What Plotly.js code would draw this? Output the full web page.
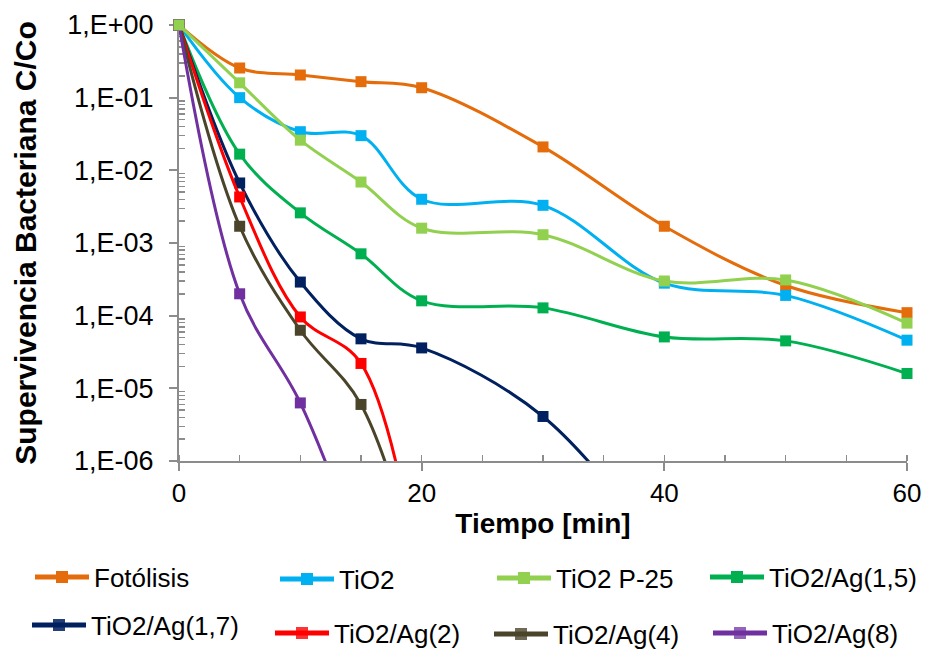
<!DOCTYPE html>
<html>
<head>
<meta charset="utf-8">
<script src="https://cdn.plot.ly/plotly-3.0.1.min.js"></script>
<style>html,body{margin:0;padding:0;background:#fff;}#chart{width:942px;height:651px;}</style>
</head>
<body>
<div id="chart"></div>
<script>
// ---- data ----
const tiempo = [0, 5, 10, 15, 20, 30, 40, 50, 60];

const seriesNames = ["Fotólisis", "TiO2", "TiO2 P-25", "TiO2/Ag(1,5)",
                     "TiO2/Ag(1,7)", "TiO2/Ag(2)", "TiO2/Ag(4)", "TiO2/Ag(8)"];

const fotolisis = [1, 0.256, 0.205, 0.166, 0.137, 0.021, 0.0017, 2.6e-4, 1.1e-4];
const tio2      = [1, 0.100, 0.034, 0.030, 0.0040, 0.0033, 2.8e-4, 1.9e-4, 4.6e-5];
const tio2P25   = [1, 0.160, 0.026, 0.0069, 0.0016, 0.0013, 3.0e-4, 3.1e-4, 7.9e-5];
const ag15      = [1, 0.0167, 0.0026, 7.1e-4, 1.6e-4, 1.28e-4, 5.1e-5, 4.5e-5, 1.6e-5];
const ag17      = [1, 0.0067, 2.9e-4, 4.8e-5, 3.6e-5, 4.1e-6, 5e-8];
const ag2       = [1, 0.0043, 9.6e-5, 2.2e-5, 1.5e-8];
const ag4       = [1, 0.0017, 6.3e-5, 6.0e-6, 2e-8];
const ag8       = [1, 2.0e-4, 6.3e-6, 5e-8];

const yTickVals = [1e-6, 1e-5, 1e-4, 1e-3, 1e-2, 1e-1, 1];
const yTickText = ["1,E-06", "1,E-05", "1,E-04", "1,E-03", "1,E-02", "1,E-01", "1,E+00"];
const xTickVals = [0, 20, 40, 60];
const xTickText = ["0", "20", "40", "60"];

// ---- styling ----
const colors = ["#E46C0A", "#00B0F0", "#92D050", "#00B050",
                "#002060", "#FF0000", "#4A452A", "#7030A0"];
const values = [fotolisis, tio2, tio2P25, ag15, ag17, ag2, ag4, ag8];
// legend placement (pixel positions in the 942x651 picture)
const legPx = [[30, 577], [275, 579], [492, 578], [705, 577],
               [27, 625], [270, 633], [489, 634], [708, 633]];

const W = 942, H = 651;
const plotL = 179, plotT = 25, plotW = 728, plotH = 436;
const yMin = 1e-6;

// draw order: P-25 last so its markers sit on top (like the reference)
const drawOrder = [0, 1, 3, 4, 5, 6, 7, 2];

const traces = drawOrder.map(i => {
  const ys = values[i];
  return {
    type: "scatter",
    mode: "lines+markers",
    name: seriesNames[i],
    x: tiempo.slice(0, ys.length),
    y: ys,
    line: {color: colors[i], width: 3, shape: "spline", smoothing: 1},
    marker: {symbol: "square", size: 11, color: colors[i],
             opacity: ys.map(v => v >= yMin ? 1 : 0)},
    cliponaxis: false,
    legend: i === 0 ? "legend" : "legend" + (i + 1),
    showlegend: true
  };
});

// minor ticks on the log axis (2..9 in every decade)
const yMinor = [];
for (let e = -6; e < 0; e++) for (let m = 2; m <= 9; m++) yMinor.push(m * Math.pow(10, e));

const layout = {
  width: W, height: H,
  paper_bgcolor: "#ffffff", plot_bgcolor: "#ffffff",
  margin: {l: plotL, r: W - plotL - plotW, t: plotT, b: H - plotT - plotH, pad: 0, autoexpand: false},
  font: {family: "Liberation Sans, Arial, sans-serif", color: "#000000"},
  xaxis: {
    range: [0, 60], showgrid: false, zeroline: false,
    showline: true, linecolor: "#8c8c8c", linewidth: 2,
    tickmode: "array", tickvals: xTickVals, ticktext: xTickText,
    ticks: "outside", ticklen: 8, tickwidth: 2, tickcolor: "#8c8c8c",
    tickfont: {size: 26, color: "#000"},
    minor: {tickmode: "linear", tick0: 0, dtick: 5, ticks: "inside", ticklen: 6,
            tickwidth: 1.5, tickcolor: "#8c8c8c", showgrid: false},
    title: {text: "<b>Tiempo [min]</b>", font: {size: 28, color: "#000"}, standoff: 6},
    layer: "below traces", automargin: false
  },
  yaxis: {
    type: "log", range: [-6, 0], showgrid: false, zeroline: false,
    showline: true, linecolor: "#8c8c8c", linewidth: 2,
    tickmode: "array", tickvals: yTickVals, ticktext: yTickText,
    ticks: "outside", ticklen: 8, tickwidth: 2, tickcolor: "#8c8c8c",
    tickfont: {size: 27, color: "#000"}, ticklabelstandoff: 10,
    minor: {tickmode: "array", tickvals: yMinor, ticks: "inside", ticklen: 6,
            tickwidth: 1.5, tickcolor: "#8c8c8c", showgrid: false},
    title: {text: "<b>Supervivencia Bacteriana C/Co</b>", font: {size: 30, color: "#000"}, standoff: 22},
    layer: "below traces", automargin: false
  },
  showlegend: true
};

legPx.forEach((p, i) => {
  const key = i === 0 ? "legend" : "legend" + (i + 1);
  layout[key] = {
    xref: "container", yref: "container",
    x: p[0] / W, y: 1 - p[1] / H,
    xanchor: "left", yanchor: "middle",
    orientation: "h", bgcolor: "rgba(0,0,0,0)", borderwidth: 0,
    font: {size: 26, color: "#000", family: "Liberation Sans, Arial, sans-serif"},
    itemwidth: 54, itemsizing: "constant"
  };
});

Plotly.newPlot("chart", traces, layout, {displayModeBar: false, staticPlot: true});
</script>
</body>
</html>
